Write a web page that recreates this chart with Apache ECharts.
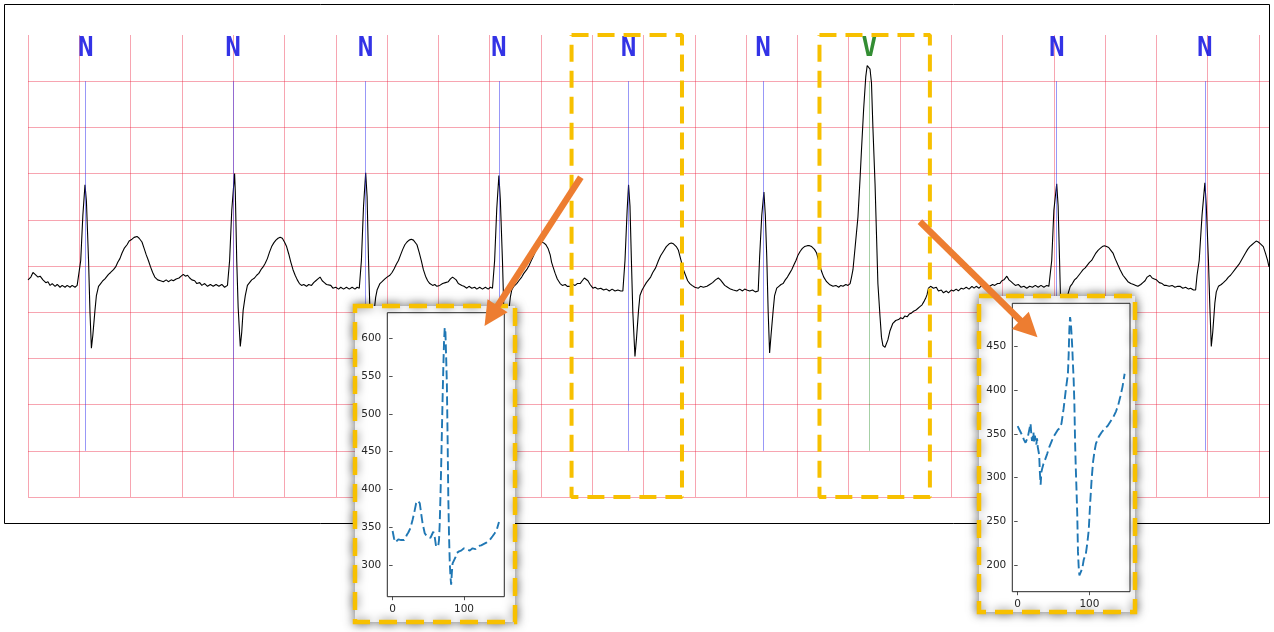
<!DOCTYPE html>
<html><head><meta charset="utf-8">
<script src="https://cdn.jsdelivr.net/npm/echarts@6/dist/echarts.min.js"></script>
<style>html,body{margin:0;padding:0;background:#fff}#c{width:1274px;height:632px}</style>
</head><body><div id="c"></div>
<script>
// ECG trace: [sample index @360 Hz, amplitude in mV]
const ecgSignal = [
[0,-0.15],[4,-0.12],[7,-0.07],[10,-0.09],[14,-0.12],[17,-0.11],[21,-0.15],[25,-0.18],[28,-0.17],[31,-0.21],[34,-0.19],[38,-0.22],[41,-0.20],[45,-0.23],[48,-0.21],[52,-0.23],[55,-0.21],[59,-0.23],[62,-0.21],[66,-0.23],[69,-0.21],[71,-0.23],
[74,0.06],[77,0.55],[80,0.88],[82,0.70],[85,0.06],[87,-0.50],[89,-0.89],[91,-0.75],[94,-0.48],[96,-0.32],[99,-0.22],
[102,-0.19],[105,-0.16],[108,-0.14],[110,-0.12],[113,-0.09],[116,-0.07],[120,-0.04],[123,-0.01],[126,0.04],[129,0.08],[132,0.14],[135,0.19],[139,0.23],[142,0.27],[146,0.29],[149,0.31],[153,0.32],[156,0.30],[160,0.26],[163,0.19],[166,0.12],[169,0.06],[172,-0.01],[175,-0.07],[178,-0.12],[182,-0.15],[186,-0.16],[190,-0.17],[194,-0.15],[197,-0.17],[201,-0.15],[204,-0.16],[208,-0.14],[212,-0.13],[215,-0.11],[218,-0.09],[221,-0.11],[224,-0.10],[227,-0.13],[230,-0.15],[234,-0.16],[237,-0.19],[241,-0.18],[244,-0.21],[248,-0.19],[252,-0.22],[256,-0.20],[260,-0.22],[264,-0.20],[268,-0.22],[272,-0.20],[276,-0.23],[280,-0.21],
[283,0.06],[286,0.60],[290,1.00],[291,0.80],[293,0.06],[295,-0.45],[298,-0.87],[300,-0.72],[302,-0.48],[305,-0.32],[308,-0.21],
[311,-0.18],[314,-0.15],[318,-0.13],[321,-0.10],[324,-0.08],[327,-0.04],[330,-0.01],[333,0.03],[336,0.08],[339,0.15],[342,0.21],[345,0.25],[348,0.28],[351,0.30],[354,0.31],[357,0.30],[360,0.26],[363,0.21],[366,0.13],[369,0.04],[372,-0.04],[375,-0.10],[378,-0.15],[381,-0.19],[384,-0.21],[387,-0.20],[391,-0.22],[394,-0.20],[398,-0.21],[401,-0.18],[404,-0.16],[407,-0.14],[410,-0.12],[413,-0.16],[416,-0.18],[419,-0.20],[421,-0.22],[425,-0.21],[428,-0.24],[432,-0.23],[436,-0.25],[439,-0.23],[443,-0.25],[447,-0.23],[451,-0.25],[455,-0.23],[459,-0.25],[462,-0.23],[465,-0.24],
[468,0.06],[471,0.65],[474,1.01],[476,0.75],[478,0.06],[480,-0.50],[482,-0.93],[484,-0.75],[486,-0.48],[488,-0.34],[490,-0.26],[494,-0.19],[497,-0.17],[501,-0.14],[504,-0.12],[508,-0.10],[511,-0.07],[514,-0.03],[517,0.02],[520,0.06],[523,0.12],[526,0.18],[529,0.23],[532,0.26],[535,0.28],[538,0.29],[541,0.28],[543,0.26],[546,0.23],[549,0.15],[552,0.06],[555,-0.04],[558,-0.11],[561,-0.16],[564,-0.19],[568,-0.21],[571,-0.20],[574,-0.22],[578,-0.21],[582,-0.19],[586,-0.18],[590,-0.17],[593,-0.14],[596,-0.12],[598,-0.12],[601,-0.15],[604,-0.19],[606,-0.21],[609,-0.21],[612,-0.22],[616,-0.24],[619,-0.22],[623,-0.24],[627,-0.23],[630,-0.25],[634,-0.23],[638,-0.25],[642,-0.23],[646,-0.25],[649,-0.23],[652,-0.24],
[655,0.06],[658,0.62],[661,0.98],[663,0.72],[666,0.06],[668,-0.50],[670,-0.91],[672,-0.75],[675,-0.48],[677,-0.34],[679,-0.26],[682,-0.22],[686,-0.19],[689,-0.16],[693,-0.12],[696,-0.08],[700,-0.04],[703,0.00],[706,0.05],[709,0.10],[712,0.15],[715,0.20],[718,0.24],[721,0.26],[724,0.25],[727,0.23],[730,0.19],[733,0.12],[735,0.04],[737,-0.01],[740,-0.08],[743,-0.14],[747,-0.19],[750,-0.21],[754,-0.20],[757,-0.22],[761,-0.22],[765,-0.20],[768,-0.21],[771,-0.19],[775,-0.19],[778,-0.16],[781,-0.13],[783,-0.12],[786,-0.16],[789,-0.20],[793,-0.24],[796,-0.23],[800,-0.25],[804,-0.24],[808,-0.26],[812,-0.25],[816,-0.27],[820,-0.25],[824,-0.27],[828,-0.26],[832,-0.27],[835,-0.27],
[838,0.06],[841,0.60],[843,0.88],[845,0.65],[847,0.06],[849,-0.50],[852,-0.98],[854,-0.80],[857,-0.48],[859,-0.32],[862,-0.26],[865,-0.22],[868,-0.18],[871,-0.15],[874,-0.12],[877,-0.07],[881,-0.02],[885,0.06],[888,0.11],[892,0.16],[896,0.21],[900,0.24],[903,0.25],[906,0.24],[910,0.21],[913,0.17],[916,0.08],[920,-0.04],[923,-0.10],[926,-0.16],[929,-0.19],[932,-0.21],[936,-0.23],[941,-0.24],[944,-0.22],[948,-0.23],[953,-0.22],[957,-0.20],[961,-0.18],[965,-0.15],[969,-0.13],[972,-0.15],[975,-0.18],[978,-0.21],[982,-0.23],[986,-0.25],[990,-0.26],[995,-0.27],[999,-0.25],[1003,-0.27],[1006,-0.25],[1009,-0.26],[1013,-0.27],[1017,-0.26],[1021,-0.28],[1025,-0.27],
[1027,0.10],[1030,0.55],[1033,0.80],[1035,0.55],[1037,0.10],[1039,-0.50],[1041,-0.94],[1043,-0.75],[1046,-0.48],[1048,-0.32],[1051,-0.24],[1054,-0.22],[1057,-0.20],[1060,-0.19],[1063,-0.15],[1066,-0.12],[1069,-0.08],[1072,-0.04],[1075,0.01],[1078,0.06],[1081,0.12],[1084,0.16],[1087,0.19],[1090,0.21],[1094,0.22],[1097,0.22],[1100,0.21],[1104,0.18],[1107,0.14],[1110,0.05],[1114,-0.06],[1117,-0.12],[1121,-0.17],[1125,-0.20],[1130,-0.22],[1134,-0.21],[1138,-0.23],[1141,-0.21],[1144,-0.22],[1148,-0.20],[1151,-0.21],[1154,-0.19],
[1156,-0.12],[1158,-0.04],[1161,0.20],[1165,0.53],[1168,0.95],[1170,1.26],[1173,1.70],[1176,2.05],[1178,2.17],[1180,2.19],[1182,2.13],[1184,1.98],[1186,1.50],[1189,0.89],[1191,0.35],[1193,-0.19],[1196,-0.55],[1198,-0.77],[1200,-0.86],[1203,-0.88],[1205,-0.86],[1207,-0.80],[1210,-0.70],[1214,-0.62],[1218,-0.59],[1222,-0.58],[1225,-0.56],[1228,-0.57],[1231,-0.54],[1234,-0.55],[1237,-0.52],[1240,-0.51],[1243,-0.49],[1246,-0.48],[1249,-0.46],[1252,-0.44],[1255,-0.42],[1258,-0.38],[1260,-0.35],[1262,-0.31],[1264,-0.24],
[1267,-0.22],[1271,-0.24],[1275,-0.23],[1278,-0.27],[1282,-0.26],[1285,-0.29],[1289,-0.27],[1292,-0.29],[1296,-0.26],[1299,-0.27],[1303,-0.25],[1306,-0.27],[1310,-0.24],[1313,-0.25],[1317,-0.23],[1321,-0.25],[1325,-0.22],[1328,-0.24],[1331,-0.22],[1335,-0.24],[1339,-0.21],[1342,-0.23],[1346,-0.21],[1350,-0.22],[1354,-0.20],[1357,-0.21],[1361,-0.19],[1364,-0.19],[1367,-0.16],[1370,-0.15],[1374,-0.11],[1377,-0.15],[1380,-0.17],[1383,-0.19],[1386,-0.21],[1390,-0.20],[1394,-0.23],[1398,-0.22],[1402,-0.24],[1406,-0.22],[1410,-0.23],[1414,-0.21],[1418,-0.23],[1422,-0.21],[1426,-0.23],[1430,-0.21],[1433,-0.22],
[1437,0.06],[1440,0.60],[1444,0.89],[1446,0.65],[1448,0.06],[1450,-0.55],[1451,-0.91],[1453,-0.78],[1456,-0.48],[1458,-0.38],[1460,-0.30],[1463,-0.22],[1466,-0.19],[1469,-0.15],[1472,-0.13],[1475,-0.10],[1478,-0.07],[1481,-0.04],[1484,-0.02],[1487,0.01],[1490,0.04],[1493,0.06],[1496,0.10],[1499,0.14],[1502,0.17],[1505,0.19],[1508,0.21],[1511,0.22],[1514,0.21],[1517,0.20],[1520,0.17],[1523,0.14],[1526,0.08],[1530,0.01],[1533,-0.04],[1537,-0.10],[1541,-0.14],[1544,-0.17],[1548,-0.19],[1552,-0.20],[1555,-0.21],[1558,-0.22],[1562,-0.20],[1565,-0.18],[1568,-0.16],[1571,-0.12],[1575,-0.10],[1578,-0.13],[1581,-0.14],[1584,-0.15],[1588,-0.18],[1592,-0.19],[1595,-0.21],[1598,-0.21],[1602,-0.22],[1606,-0.21],[1610,-0.23],[1614,-0.22],[1617,-0.22],[1621,-0.24],[1625,-0.23],[1629,-0.25],[1632,-0.24],[1636,-0.26],[1639,-0.26],
[1641,-0.10],[1644,0.06],[1648,0.55],[1652,0.90],[1654,0.65],[1657,0.06],[1659,-0.45],[1661,-0.87],[1663,-0.72],[1666,-0.40],[1668,-0.28],[1671,-0.22],[1675,-0.20],[1678,-0.18],[1682,-0.15],[1685,-0.12],[1688,-0.10],[1691,-0.07],[1694,-0.04],[1697,-0.01],[1700,0.02],[1703,0.06],[1706,0.10],[1709,0.14],[1712,0.18],[1715,0.21],[1718,0.23],[1721,0.25],[1724,0.27],[1727,0.26],[1730,0.24],[1734,0.21],[1737,0.14],[1740,0.06],[1742,-0.01]
];
// beat annotations
const beatSamples = [81, 288, 474, 661, 843, 1032, 1181, 1444, 1652];
const beatLabels  = ['N','N','N','N','N','N','V','N','N'];
// highlighted beat windows [start, end] in samples
const windowBoxes = [[763, 918], [1111, 1266]];
// arrows from windows to insets [from, to] in main-chart units
const arrowLinks = [[[776, 0.96], [650, -0.54]], [[1252, 0.48], [1405, -0.68]]];
// inset 1 (N beat window)
const inset1X = [0,2,4,6,8,10,12,14,16,18,20,22,25,28,30,33,35,38,40,42,45,48,50,53,55,57,59,61,63,64,65,66,67,68,69,70,71,72,73,74,75,76,77,78,79,80,81,82,83,84,86,88,90,93,96,100,104,108,112,116,120,124,128,132,136,140,143,146,149];
const inset1Y = [345,335,330,331,334,332,333,335,333,336,340,343,349,360,368,382,385,382,368,355,342,338,337,336,340,344,337,324,322,326,333,355,390,430,475,520,560,595,614,608,575,540,470,390,340,305,285,274,290,302,306,310,316,318,319,322,321,319,322,321,325,326,328,330,333,338,342,347,357];
// inset 2 (V beat window)
const inset2X = [0,3,6,9,11,14,17,18,19,20,22,23,24,26,27,28,30,31,32,33,34,36,38,41,44,47,50,53,56,59,61,64,67,70,71,72,73,74,75,76,77,78,79,80,81,82,83,84,85,86,88,90,92,95,97,99,101,103,105,107,109,113,117,121,125,129,133,137,140,143,146,149];
const inset2Y = [359,354,349,343,340,346,358,362,350,342,352,340,348,338,345,335,326,305,292,306,310,316,320,327,335,341,347,351,355,357,362,379,400,419,440,470,484,478,465,450,430,412,385,340,310,285,258,215,198,188,188,196,206,213,225,240,271,298,318,330,339,347,352,356,359,364,369,376,383,393,404,419];
const insetXTicks = [0, 100];
const inset1YTicks = [300, 350, 400, 450, 500, 550, 600];
const inset2YTicks = [200, 250, 300, 350, 400, 450];

const PINK = 'rgba(235,30,60,0.4)';
const GOLD = '#f7c000';
const ORANGE = '#ed7d31';
const TXT = '#262626';
const FONT = 'DejaVu Sans';

function zip(a, b) { return a.map((v, i) => [v, b[i]]); }

function insetAxes(gi, xmin, xmax, ymin, ymax, yTicks) {
  const common = {
    gridIndex: gi, type: 'value', z: 11,
    axisLine: { show: false },
    splitLine: { show: false },
    axisTick: { show: true, length: 3.5, lineStyle: { color: TXT, width: 0.8 } },
    axisLabel: { show: true, color: TXT, fontSize: 10.5, fontFamily: FONT }
  };
  const xa = Object.assign({}, common, { min: xmin, max: xmax,
    axisTick: Object.assign({}, common.axisTick, { customValues: insetXTicks }),
    axisLabel: Object.assign({}, common.axisLabel, { customValues: insetXTicks, margin: 7 }) });
  const ya = Object.assign({}, common, { min: ymin, max: ymax,
    axisTick: Object.assign({}, common.axisTick, { customValues: yTicks }),
    axisLabel: Object.assign({}, common.axisLabel, { customValues: yTicks, margin: 6 }) });
  return [xa, ya];
}

const [ix1, iy1] = insetAxes(1, -7.45, 156.45, 258, 634, inset1YTicks);
const [ix2, iy2] = insetAxes(2, -7.45, 156.45, 169.4, 499.7, inset2YTicks);

const labelFont = { fontFamily: '"DejaVu Sans Mono", "Liberation Mono", monospace', fontWeight: 700, fontSize: 26 };

const chart = echarts.init(document.getElementById('c'), null, { renderer: 'canvas' });
const option = {
  animation: false,
  backgroundColor: '#fff',
  grid: [
    { left: 28, top: 35, width: 1241, height: 462 },
    { left: 387.3, top: 312.7, width: 117, height: 284, show: true, z: 11,
      borderColor: TXT, borderWidth: 1, backgroundColor: 'rgba(0,0,0,0)' },
    { left: 1012.3, top: 303.3, width: 117.7, height: 288.4, show: true, z: 11,
      borderColor: TXT, borderWidth: 1, backgroundColor: 'rgba(0,0,0,0)' }
  ],
  xAxis: [
    { gridIndex: 0, type: 'value', min: 0, max: 1742, interval: 72,
      axisLine: { show: false }, axisTick: { show: false }, axisLabel: { show: false },
      splitLine: { show: true, showMaxLine: false, lineStyle: { color: PINK, width: 1 } } },
    ix1, ix2
  ],
  yAxis: [
    { gridIndex: 0, type: 'value', min: -2.5, max: 2.5, interval: 0.5,
      axisLine: { show: false }, axisTick: { show: false }, axisLabel: { show: false },
      splitLine: { show: true, showMaxLine: false, lineStyle: { color: PINK, width: 1 } } },
    iy1, iy2
  ],
  graphic: [
    { type: 'rect', z: 1, silent: true,
      shape: { x: 4.5, y: 4.5, width: 1265, height: 519 },
      style: { fill: 'none', stroke: '#000', lineWidth: 1 } },
    { type: 'rect', z: 10, silent: true,
      shape: { x: 355, y: 306, width: 160, height: 316 },
      style: { fill: '#fff', stroke: GOLD, lineWidth: 4.5, lineDash: [18, 9],
               shadowBlur: 10, shadowColor: 'rgba(0,0,0,0.5)' } },
    { type: 'rect', z: 10, silent: true,
      shape: { x: 979, y: 296, width: 156, height: 316 },
      style: { fill: '#fff', stroke: GOLD, lineWidth: 4.5, lineDash: [18, 9],
               shadowBlur: 10, shadowColor: 'rgba(0,0,0,0.5)' } }
  ],
  series: [
    { type: 'line', xAxisIndex: 0, yAxisIndex: 0, z: 1, data: [], silent: true,
      markLine: { silent: true, symbol: ['none', 'none'], label: { show: false },
        data: beatSamples.map((b, i) => [
          { coord: [b, 2.0], lineStyle: { color: beatLabels[i] === 'V' ? 'rgba(0,120,0,0.35)' : 'rgba(50,50,240,0.5)', width: 1, type: 'solid' } },
          { coord: [b, -2.0] }
        ]) } },
    { type: 'line', xAxisIndex: 0, yAxisIndex: 0, z: 2, data: ecgSignal,
      showSymbol: false, symbol: 'none', silent: true,
      lineStyle: { color: '#000', width: 1.1 } },
    { type: 'scatter', xAxisIndex: 0, yAxisIndex: 0, z: 3, silent: true,
      symbolSize: 1, itemStyle: { color: 'rgba(0,0,0,0)' },
      data: beatSamples.map((b, i) => ({ value: [b, 2.35], name: beatLabels[i],
        label: Object.assign({ color: beatLabels[i] === 'V' ? '#007000' : '#0000e0' }, labelFont) })),
      label: Object.assign({ show: true, position: 'inside', formatter: p => p.name }, labelFont) },
    ...windowBoxes.map(w => ({
      type: 'line', xAxisIndex: 0, yAxisIndex: 0, z: 4, clip: false, silent: true,
      showSymbol: false, symbol: 'none',
      data: [[w[0], 2.5], [w[1], 2.5], [w[1], -2.5], [w[0], -2.5], [w[0], 2.5]],
      lineStyle: { color: GOLD, width: 4, type: [17, 9] } })),
    { type: 'line', xAxisIndex: 1, yAxisIndex: 1, z: 12, data: zip(inset1X, inset1Y),
      showSymbol: false, symbol: 'none', silent: true,
      lineStyle: { color: '#1f77b4', width: 1.9, type: [9, 4] } },
    { type: 'line', xAxisIndex: 2, yAxisIndex: 2, z: 12, data: zip(inset2X, inset2Y),
      showSymbol: false, symbol: 'none', silent: true,
      lineStyle: { color: '#1f77b4', width: 1.9, type: [9, 4] } },
    { type: 'lines', coordinateSystem: 'cartesian2d', xAxisIndex: 0, yAxisIndex: 0, z: 20,
      silent: true, clip: false,
      symbol: ['none', 'triangle'], symbolSize: [22, 24],
      lineStyle: { color: ORANGE, width: 6.5, opacity: 1, curveness: 0 },
      data: arrowLinks.map(a => ({ coords: a })) }
  ]
};
chart.setOption(option);
</script>
</body></html>
